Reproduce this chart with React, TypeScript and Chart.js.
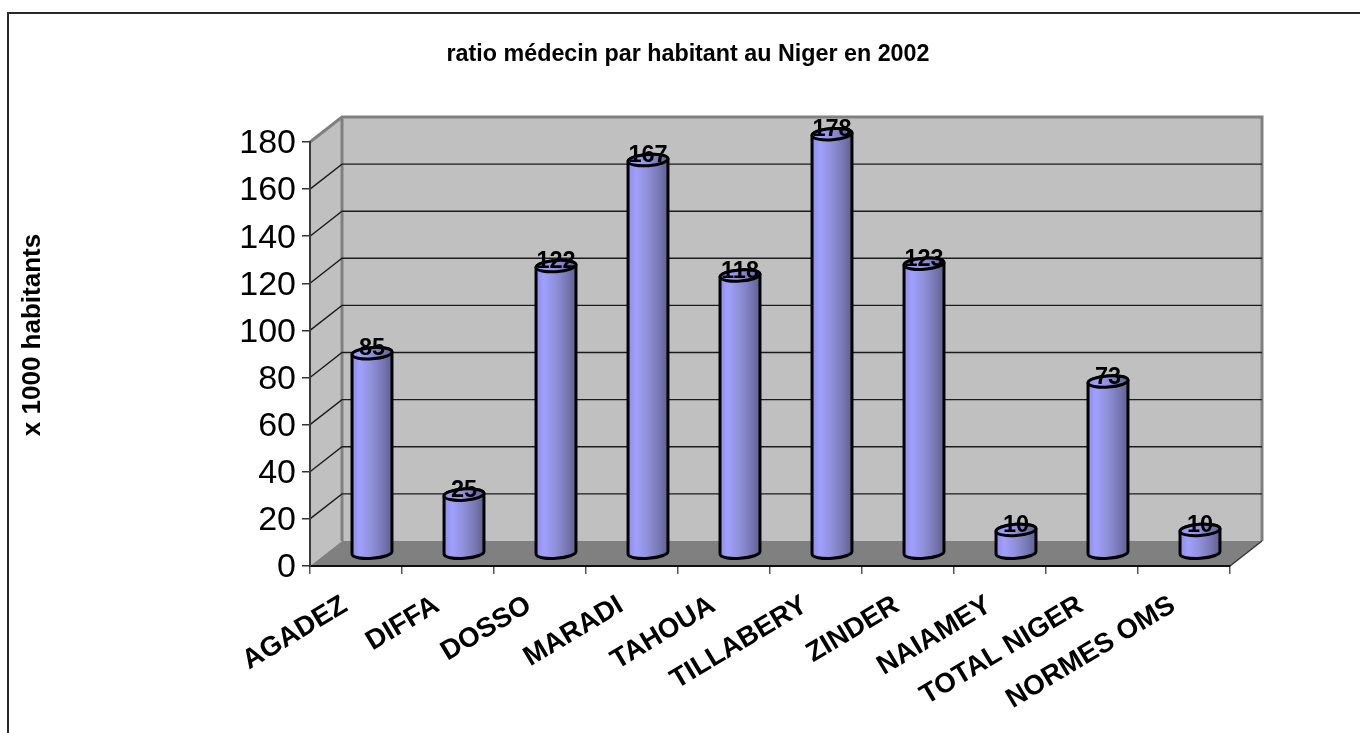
import React, { useEffect, useRef } from "react";
import { Chart, registerables } from "chart.js";

Chart.register(...registerables);

const regions = ["AGADEZ", "DIFFA", "DOSSO", "MARADI", "TAHOUA", "TILLABERY", "ZINDER", "NAIAMEY", "TOTAL NIGER", "NORMES OMS"];
const ratios = [85, 25, 122, 167, 118, 178, 123, 10, 73, 10];
const chartTitle = "ratio médecin par habitant au Niger en 2002";
const yAxisTitle = "x 1000 habitants";

const FONT = '"Liberation Sans", Arial, sans-serif';
// Depth of the box the columns stand in, as a shift from the front plane to the back wall.
const DEPTH_X = 32;
const DEPTH_Y = -25;
const TILT = (-4 * Math.PI) / 180;
const CAP_RY = 5.6;

const boxPlugin = {
  id: "box",
  afterLayout(chart: any) {
    // The title is centred on the full page width, not on the plot.
    chart.titleBlock.right = 1376;
  },
  beforeDraw(chart: any) {
    const { ctx, chartArea: a, scales } = chart;
    const { left, right, top, bottom } = a;
    ctx.save();

    // Outer frame: only the top and left edges are in view.
    ctx.strokeStyle = "#2a2a2a";
    ctx.lineWidth = 2;
    ctx.beginPath();
    ctx.moveTo(8, 733);
    ctx.lineTo(8, 13);
    ctx.lineTo(1360, 13);
    ctx.stroke();

    // Left wall and back wall
    ctx.fillStyle = "#c0c0c0";
    ctx.beginPath();
    ctx.moveTo(left, top);
    ctx.lineTo(left + DEPTH_X, top + DEPTH_Y);
    ctx.lineTo(right + DEPTH_X, top + DEPTH_Y);
    ctx.lineTo(right + DEPTH_X, bottom + DEPTH_Y);
    ctx.lineTo(left + DEPTH_X, bottom + DEPTH_Y);
    ctx.lineTo(left, bottom);
    ctx.closePath();
    ctx.fill();

    // Floor
    ctx.fillStyle = "#808080";
    ctx.beginPath();
    ctx.moveTo(left, bottom);
    ctx.lineTo(left + DEPTH_X, bottom + DEPTH_Y);
    ctx.lineTo(right + DEPTH_X, bottom + DEPTH_Y);
    ctx.lineTo(right, bottom);
    ctx.closePath();
    ctx.fill();

    // Wall outlines
    ctx.strokeStyle = "#808080";
    ctx.lineWidth = 3;
    ctx.beginPath();
    ctx.moveTo(left, top);
    ctx.lineTo(left + DEPTH_X, top + DEPTH_Y);
    ctx.lineTo(right + DEPTH_X, top + DEPTH_Y);
    ctx.lineTo(right + DEPTH_X, bottom + DEPTH_Y);
    ctx.moveTo(left + DEPTH_X, top + DEPTH_Y);
    ctx.lineTo(left + DEPTH_X, bottom + DEPTH_Y);
    ctx.stroke();

    // Gridlines run across the left wall, then along the back wall.
    ctx.strokeStyle = "#1c1c1c";
    ctx.lineWidth = 1.4;
    ctx.beginPath();
    for (const t of scales.y.ticks) {
      if (t.value === 0 || t.value === scales.y.max) continue;
      const y = scales.y.getPixelForValue(t.value);
      ctx.moveTo(left, y);
      ctx.lineTo(left + DEPTH_X, y + DEPTH_Y);
      ctx.lineTo(right + DEPTH_X, y + DEPTH_Y);
    }
    ctx.stroke();

    // Right edge of the floor
    ctx.strokeStyle = "#333333";
    ctx.beginPath();
    ctx.moveTo(right, bottom);
    ctx.lineTo(right + DEPTH_X, bottom + DEPTH_Y);
    ctx.stroke();

    // Vertical axis caption
    ctx.translate(33, 335);
    ctx.rotate(-Math.PI / 2);
    ctx.fillStyle = "#000";
    ctx.font = `bold 26px ${FONT}`;
    ctx.textAlign = "center";
    ctx.textBaseline = "middle";
    ctx.fillText(yAxisTitle, 0, 0);
    ctx.restore();
  },
};

const cylinderPlugin = {
  id: "cylinders",
  afterDatasetsDraw(chart: any) {
    const { ctx } = chart;
    const bars = chart.getDatasetMeta(0).data;
    bars.forEach((bar: any, i: number) => {
      const cx = bar.x + DEPTH_X / 2;
      const topY = bar.y + DEPTH_Y / 2;
      const baseY = bar.base + DEPTH_Y / 2;
      const rx = bar.width / 2;
      const x0 = cx - rx;
      const dx = rx * Math.cos(TILT);
      const dy = rx * Math.sin(TILT);

      // Side-lit shading, bright left of centre and falling off to the right.
      const shade = ctx.createLinearGradient(x0, 0, x0 + 2 * rx, 0);
      shade.addColorStop(0, "#8c8cec");
      shade.addColorStop(0.2, "#a0a0fc");
      shade.addColorStop(0.5, "#8f8fd8");
      shade.addColorStop(0.75, "#7a7ab8");
      shade.addColorStop(1, "#606090");

      ctx.save();
      ctx.fillStyle = shade;
      ctx.strokeStyle = "#000";
      ctx.lineWidth = 3;
      ctx.beginPath();
      ctx.ellipse(cx, baseY, rx, CAP_RY, TILT, 0, Math.PI);
      ctx.lineTo(cx - dx, topY - dy);
      ctx.ellipse(cx, topY, rx, CAP_RY, TILT, Math.PI, 2 * Math.PI);
      ctx.closePath();
      ctx.fill();
      ctx.stroke();

      ctx.beginPath();
      ctx.ellipse(cx, topY, rx, CAP_RY, TILT, 0, 2 * Math.PI);
      ctx.fill();
      ctx.stroke();

      ctx.fillStyle = "#000";
      ctx.font = `bold 23.5px ${FONT}`;
      ctx.textAlign = "center";
      ctx.textBaseline = "alphabetic";
      ctx.fillText(String(ratios[i]), cx, topY + 2);
      ctx.restore();
    });
  },
};

export default function App() {
  const ref = useRef<HTMLCanvasElement>(null);
  useEffect(() => {
    const chart = new Chart(ref.current!, {
      type: "bar",
      data: {
        labels: regions,
        datasets: [
          {
            data: ratios,
            backgroundColor: "rgba(0,0,0,0)",
            borderWidth: 0,
            barPercentage: 0.435,
            categoryPercentage: 1,
          },
        ],
      },
      options: {
        animation: false,
        responsive: false,
        layout: { padding: { left: 0, right: 130, top: 0, bottom: 0 } },
        plugins: {
          legend: { display: false },
          tooltip: { enabled: false },
          title: {
            display: true,
            text: chartTitle,
            color: "#000",
            font: { family: FONT, size: 23.3, weight: "bold", lineHeight: 1.2 },
            padding: { top: 41, bottom: 73 },
          },
        },
        scales: {
          x: {
            afterFit(s: any) {
              s.height = 167;
            },
            grid: { drawOnChartArea: false, color: "#555555", lineWidth: 1.5, tickLength: 8 },
            border: { color: "#111111", width: 2 },
            ticks: {
              autoSkip: false,
              maxRotation: 31,
              minRotation: 31,
              padding: 15,
              labelOffset: -11,
              color: "#000",
              font: { family: FONT, size: 27.6, weight: "bold" },
            },
          },
          y: {
            min: 0,
            max: 180,
            afterFit(s: any) {
              s.width = 310;
            },
            grid: { drawOnChartArea: false, color: "#333333", lineWidth: 1.5, tickLength: 8 },
            border: { color: "#3a3a3a", width: 2 },
            ticks: {
              stepSize: 20,
              padding: 6,
              labelOffset: 2,
              color: "#000",
              font: { family: FONT, size: 34 },
            },
          },
        },
      },
      plugins: [boxPlugin, cylinderPlugin],
    } as any);
    return () => chart.destroy();
  }, []);
  return (
    <canvas
      ref={ref}
      width={1360}
      height={733}
      style={{ position: "fixed", left: 0, top: 0, width: 1360, height: 733 }}
    />
  );
}
